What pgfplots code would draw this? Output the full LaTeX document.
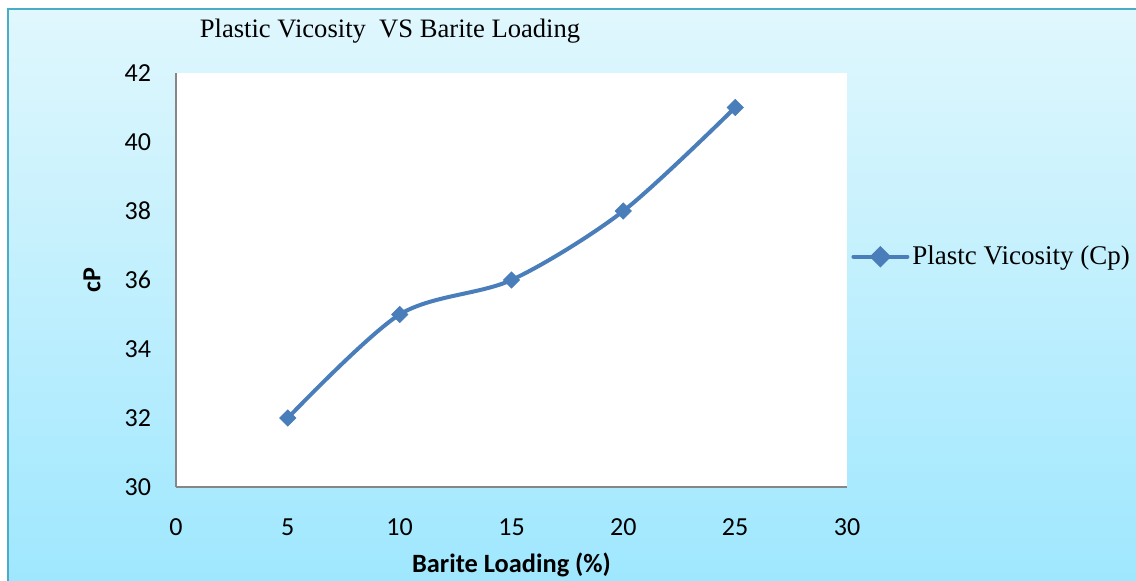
\documentclass[border=0pt]{standalone}
\usepackage{pgfplots}
\pgfplotsset{compat=1.18}
\usepackage{fontspec}
\setmainfont{Liberation Serif}
\newfontfamily\calibri{Carlito}
\definecolor{bgtop}{HTML}{E0F7FD}
\definecolor{bgbot}{HTML}{9EE7FE}
\definecolor{frame}{HTML}{4BACC6}
\definecolor{series}{HTML}{4A7EBB}
\definecolor{axgray}{HTML}{868686}
\begin{document}
\begin{tikzpicture}
\useasboundingbox (0,0) rectangle (568pt,290.5pt);
\begin{scope}
\clip (0,0) rectangle (568pt,290.5pt);
\fill[white] (0,0) rectangle (568pt,290.5pt);
\shade[top color=bgtop, bottom color=bgbot] (4pt,-5pt) rectangle (575pt,286.2pt);
\draw[frame, line width=1pt] (4pt,-5pt) -- (4pt,286.2pt) -- (575pt,286.2pt);
\end{scope}
\node[font=\fontsize{13.3}{16}\selectfont] at (195pt,275pt) {Plastic Vicosity\ \ VS Barite Loading};
\node[rotate=90, font=\calibri\bfseries\fontsize{13}{15}\selectfont] at (46pt,150.5pt) {cP};
\begin{axis}[
  at={(88pt,47pt)}, anchor=south west,
  scale only axis, width=335.5pt, height=207pt,
  xmin=0, xmax=30, ymin=30, ymax=42,
  xtick={0,5,...,30}, ytick={30,32,...,42},
  axis x line*=bottom, axis y line*=left,
  axis line style={axgray, line width=0.8pt, -},
  major tick length=0pt,
  axis background/.style={fill=white},
  /pgf/number format/assume math mode=true,
  ticklabel style={font=\calibri\fontsize{13}{15}\selectfont},
  yticklabel style={xshift=-9pt},
  xticklabel style={yshift=-12.5pt},
  xlabel={Barite Loading (\%)},
  xlabel style={font=\calibri\bfseries\fontsize{13.2}{15}\selectfont, at={(axis description cs:0.5,0)}, anchor=center, yshift=-39pt},
  legend style={at={(1.006,0.556)}, anchor=west, draw=none, fill=none, font=\fontsize{13.5}{16}\selectfont, inner sep=0pt, nodes={inner sep=1.5pt}},
  legend cell align=left,
  legend image code/.code={
    \draw[series, line width=2pt, line cap=round] (0pt,0pt) -- (27pt,0pt);
    \draw[series, fill=series] plot[mark=square*, mark size=2.8pt, mark options={rotate=45}] coordinates {(13.5pt,0pt)};
  },
]
\addplot[series, line width=2pt, smooth, mark=square*, mark size=2.8pt, mark options={rotate=45, fill=series, line width=0.5pt}] coordinates {
(5,32) (10,35) (15,36) (20,38) (25,41)
};
\addlegendentry{Plastc Vicosity (Cp)}
\end{axis}
\end{tikzpicture}
\end{document}
